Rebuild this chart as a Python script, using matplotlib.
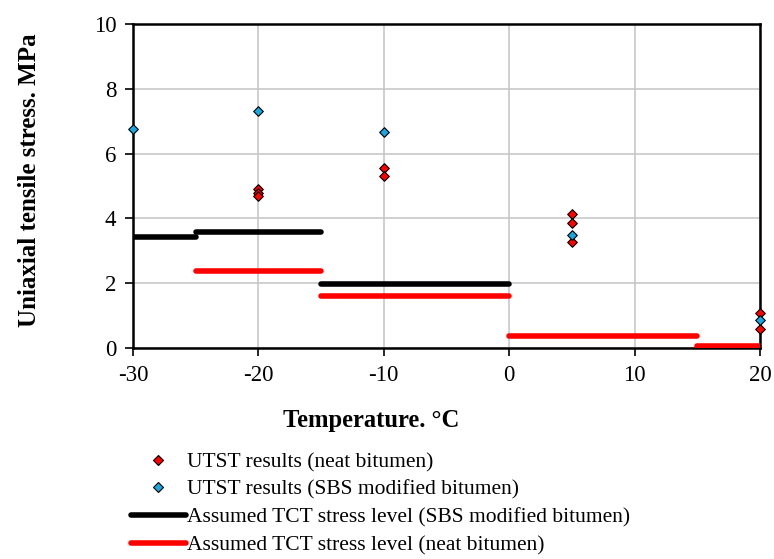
import matplotlib
matplotlib.use("Agg")
import matplotlib.pyplot as plt
from matplotlib.lines import Line2D

plt.rcParams['font.family'] = ['Liberation Serif', 'DejaVu Serif']
plt.rcParams['axes.unicode_minus'] = False

# UTST results
neat_T = [-20, -20, -20, -10, -10, 5, 5, 5, 20, 20]
neat_S = [4.91, 4.79, 4.69, 5.56, 5.31, 4.13, 3.85, 3.28, 1.08, 0.58]
sbs_T = [-30, -20, -10, 5, 20]
sbs_S = [6.76, 7.31, 6.67, 3.48, 0.86]

# Assumed TCT stress levels (segments: start, end, level)
sbs_seg_start = [-30, -25, -15]
sbs_seg_end = [-25, -15, 0]
sbs_seg_level = [3.43, 3.58, 1.96]
neat_seg_start = [-25, -15, 0, 15]
neat_seg_end = [-15, 0, 15, 20]
neat_seg_level = [2.37, 1.61, 0.36, 0.05]

fig = plt.figure(figsize=(7.74, 5.59), dpi=100)
ax = fig.add_axes([133/774, 1-348/559, (760-133)/774, (348-24)/559])

lw = 4.0
for s, e, v in zip(sbs_seg_start, sbs_seg_end, sbs_seg_level):
    ax.plot([s, e], [v, v], color='black', lw=lw, solid_capstyle='round', zorder=3)
for s, e, v in zip(neat_seg_start, neat_seg_end, neat_seg_level):
    ax.plot([s, e], [v, v], color='#ff0000', lw=lw, solid_capstyle='round', zorder=3)

ax.scatter(neat_T, neat_S, marker='D', s=24, facecolor='#ff0000', edgecolor='black', linewidth=0.8, zorder=5, clip_on=False)
ax.scatter(sbs_T, sbs_S, marker='D', s=24, facecolor='#1ba6e0', edgecolor='black', linewidth=0.8, zorder=5, clip_on=False)

ax.set_xlim(-30, 20)
ax.set_ylim(0, 10)
ax.set_xticks([-30, -20, -10, 0, 10, 20])
ax.set_yticks([0, 2, 4, 6, 8, 10])
ax.grid(True, color='#c8c8c8', lw=1.2)
ax.set_axisbelow(True)
for sp in ax.spines.values():
    sp.set_color('black')
    sp.set_linewidth(1.8)
ax.tick_params(direction='out', length=6, width=1.2, labelsize=16.5, pad=6)

fig.text(30/774, 1-180/559, 'Uniaxial tensile stress. MPa', rotation=90, ha='center', va='center',
         fontsize=18, fontweight='bold')
fig.text(371/774, 1-420/559, 'Temperature. °C', ha='center', va='center', fontsize=17.7, fontweight='bold')

handles = [
    Line2D([], [], ls='none', marker='D', markersize=5, markerfacecolor='#ff0000', markeredgecolor='black', markeredgewidth=0.8),
    Line2D([], [], ls='none', marker='D', markersize=5, markerfacecolor='#1ba6e0', markeredgecolor='black', markeredgewidth=0.8),
    Line2D([], [], color='black', lw=lw, solid_capstyle='round'),
    Line2D([], [], color='#ff0000', lw=lw, solid_capstyle='round'),
]
labels = ['UTST results (neat bitumen)', 'UTST results (SBS modified bitumen)',
          'Assumed TCT stress level (SBS modified bitumen)', 'Assumed TCT stress level (neat bitumen)']
fig.legend(handles, labels, loc='upper left', bbox_to_anchor=(131/774, 1-452/559), frameon=False,
           fontsize=15.5, handlelength=2.55, handletextpad=0.05, labelspacing=0.36, borderpad=0, borderaxespad=0)

fig.savefig('out.png', dpi=100)
